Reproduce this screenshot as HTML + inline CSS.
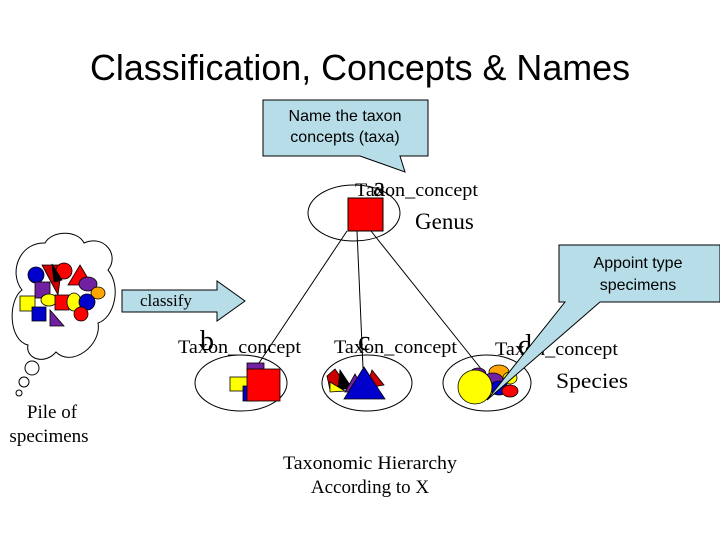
<!DOCTYPE html>
<html><head><style>
body{margin:0;width:720px;height:540px;background:#fff;overflow:hidden}
svg{display:block}
.s{font-family:"Liberation Serif",serif;fill:#000}
.a{font-family:"Liberation Sans",sans-serif;fill:#000}
</style></head><body>
<svg width="720" height="540" viewBox="0 0 720 540">
<text x="360" y="80" text-anchor="middle" class="a" font-size="36" textLength="540" lengthAdjust="spacingAndGlyphs">Classification, Concepts &amp; Names</text>
<!-- callout 1 -->
<path d="M263,100 H428 V156 H400 L405,172 L360,156 H263 Z" fill="#b7dde8" stroke="#000" stroke-width="1"/>
<text x="345" y="121" text-anchor="middle" class="a" font-size="16">Name the taxon</text>
<text x="345" y="142" text-anchor="middle" class="a" font-size="16">concepts (taxa)</text>
<!-- connectors -->
<g stroke="#000" stroke-width="1">
<line x1="347" y1="231" x2="257" y2="366"/>
<line x1="357" y1="231" x2="363" y2="368"/>
<line x1="371" y1="231" x2="482" y2="370"/>
</g>
<!-- top node -->
<ellipse cx="354" cy="213" rx="46" ry="28" fill="none" stroke="#000"/>
<rect x="348" y="198" width="35" height="33" fill="red" stroke="#000"/>
<text x="373" y="196" class="s" font-size="28">a</text>
<text x="355" y="196" class="s" font-size="19" textLength="123" lengthAdjust="spacingAndGlyphs">Taxon_concept</text>
<text x="415" y="229" class="s" font-size="23">Genus</text>
<!-- thought cloud -->
<path d="M28,345 C8,340 8,300 22,290 C8,272 20,242 45,243 C52,230 78,230 84,243 C104,234 120,255 108,270 C122,287 114,318 98,323 C102,345 72,368 56,352 C44,366 25,358 28,345 Z" fill="#fff" stroke="#000"/>
<circle cx="32" cy="368" r="7" fill="#fff" stroke="#000"/>
<circle cx="24" cy="382" r="5" fill="#fff" stroke="#000"/>
<circle cx="19" cy="393" r="3" fill="#fff" stroke="#000"/>
<g stroke="#000" stroke-width="0.8">
<polygon points="42,265 62,265 58,295" fill="#c00"/>
<circle cx="36" cy="275" r="8" fill="#00c"/>
<circle cx="64" cy="271" r="8" fill="red"/>
<polygon points="80,265 92,285 68,285" fill="red"/>
<rect x="35" y="282" width="15" height="16" fill="#7020a0"/>
<ellipse cx="88" cy="284" rx="9" ry="7" fill="#7020a0"/>
<ellipse cx="98" cy="293" rx="7" ry="6" fill="orange"/>
<rect x="20" y="296" width="15" height="15" fill="#ff0"/>
<ellipse cx="49" cy="300" rx="8" ry="6" fill="#ff0"/>
<rect x="55" y="295" width="14" height="15" fill="red"/>
<ellipse cx="74" cy="302" rx="7" ry="9" fill="#ff0"/>
<circle cx="87" cy="302" r="8" fill="#00c"/>
<circle cx="81" cy="314" r="7" fill="red"/>
<rect x="32" y="307" width="14" height="14" fill="#00c"/>
<polygon points="50,310 50,326 64,326" fill="#7020a0"/>
<polygon points="52,264 62,280 54,282" fill="#000"/>
</g>
<text x="52" y="418" text-anchor="middle" class="s" font-size="19">Pile of</text>
<text x="49" y="442" text-anchor="middle" class="s" font-size="19">specimens</text>
<!-- classify arrow -->
<path d="M122,290 H217 V281 L245,301 L217,321 V312 H122 Z" fill="#b7dde8" stroke="#000"/>
<text x="140" y="306" class="s" font-size="17">classify</text>
<!-- b node -->
<ellipse cx="241" cy="383" rx="46" ry="28" fill="none" stroke="#000"/>
<g stroke="#000" stroke-width="0.8">
<rect x="247" y="363" width="17" height="8" fill="#7020a0"/>
<rect x="230" y="377" width="18" height="14" fill="#ff0"/>
<rect x="243" y="386" width="14" height="15" fill="#00c"/>
<rect x="247" y="369" width="33" height="32" fill="red"/>
</g>
<text x="200" y="350" class="s" font-size="28">b</text>
<text x="178" y="353" class="s" font-size="19" textLength="123" lengthAdjust="spacingAndGlyphs">Taxon_concept</text>
<!-- c node -->
<ellipse cx="367" cy="383" rx="45" ry="28" fill="none" stroke="#000"/>
<g stroke="#000" stroke-width="0.8">
<polygon points="327,376 335,369 346,385 330,390" fill="#c00"/>
<polygon points="340,370 352,388 338,390" fill="#000"/>
<polygon points="372,370 384,385 366,388" fill="#c00"/>
<polygon points="330,382 345,391 330,392" fill="#ff0"/>
<polygon points="355,374 365,392 345,392" fill="#7020a0"/>
<polygon points="364,367 385,399 344,399" fill="#00c"/>
</g>
<text x="358" y="350" class="s" font-size="28">c</text>
<text x="334" y="353" class="s" font-size="19" textLength="123" lengthAdjust="spacingAndGlyphs">Taxon_concept</text>
<!-- d node -->
<ellipse cx="487" cy="383" rx="44" ry="28" fill="none" stroke="#000"/>
<g stroke="#000" stroke-width="0.8">
<ellipse cx="478" cy="374" rx="8" ry="6" fill="#7020a0"/>
<ellipse cx="499" cy="372" rx="10" ry="7" fill="orange"/>
<ellipse cx="493" cy="380" rx="10" ry="7" fill="#7020a0"/>
<ellipse cx="510" cy="378" rx="7" ry="6" fill="#ff0"/>
<ellipse cx="499" cy="388" rx="9" ry="7" fill="#00c"/>
<ellipse cx="510" cy="391" rx="8" ry="6" fill="red"/>
<circle cx="475" cy="387" r="17" fill="#ff0"/>
</g>
<text x="518" y="354" class="s" font-size="28">d</text>
<text x="495" y="355" class="s" font-size="19" textLength="123" lengthAdjust="spacingAndGlyphs">Taxon_concept</text>
<text x="556" y="388" class="s" font-size="22" textLength="72" lengthAdjust="spacingAndGlyphs">Species</text>
<!-- callout 2 -->
<path d="M559,245 H720 V302 H600 L487,400 L565,302 H559 Z" fill="#b7dde8" stroke="#000"/>
<text x="638" y="268" text-anchor="middle" class="a" font-size="16">Appoint type</text>
<text x="638" y="290" text-anchor="middle" class="a" font-size="16">specimens</text>
<!-- bottom -->
<text x="370" y="469" text-anchor="middle" class="s" font-size="19" textLength="174" lengthAdjust="spacingAndGlyphs">Taxonomic Hierarchy</text>
<text x="370" y="493" text-anchor="middle" class="s" font-size="19">According to X</text>
</svg>
</body></html>
